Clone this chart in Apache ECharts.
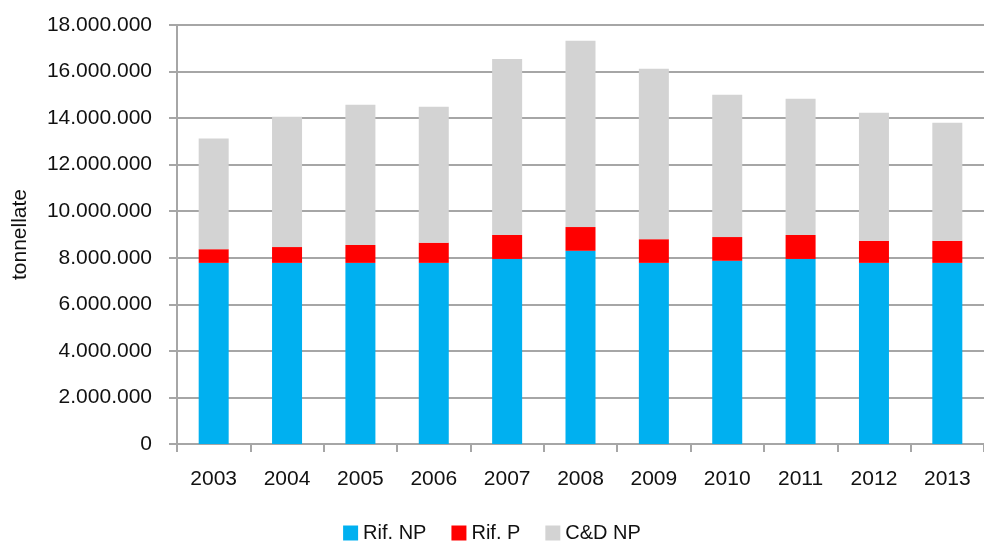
<!DOCTYPE html>
<html>
<head>
<meta charset="utf-8">
<script src="https://cdn.jsdelivr.net/npm/echarts@6/dist/echarts.min.js"></script>
<style>html,body{margin:0;padding:0;background:#fff;}#c{width:984px;height:543px;}</style>
</head>
<body>
<div id="c"></div>
<script>
var categories = ['2003','2004','2005','2006','2007','2008','2009','2010','2011','2012','2013'];
var rifNP = [7780000,7780000,7780000,7780000,7950000,8300000,7780000,7870000,7950000,7780000,7780000];
var rifP  = [590000,680000,770000,870000,1030000,1020000,1020000,1020000,1030000,950000,950000];
var cdNP  = [4750000,5600000,6020000,5840000,7560000,8000000,7320000,6110000,5850000,5500000,5070000];
var seriesNames = ['Rif. NP','Rif. P','C&D NP'];

function fmt(v){
  return String(Math.round(v)).replace(/\B(?=(\d{3})+(?!\d))/g,'.');
}
var FONT = 'Liberation Sans, Arial, sans-serif';
var chart = echarts.init(document.getElementById('c'), null, {renderer:'canvas'});
chart.setOption({
  animation:false,
  backgroundColor:'#ffffff',
  textStyle:{fontFamily:FONT},
  grid:{left:177, top:25, width:813, bottom:99, containLabel:false},
  legend:{
    data:seriesNames,
    top:518, left:'center',
    itemWidth:15, itemHeight:15, itemGap:25,
    icon:'rect',
    textStyle:{fontFamily:FONT, fontSize:20, color:'#111'}
  },
  xAxis:{
    type:'category', data:categories,
    axisLine:{lineStyle:{color:'#a6a6a6', width:2}},
    axisTick:{show:true, alignWithLabel:false, length:8, lineStyle:{color:'#a6a6a6', width:2}},
    axisLabel:{fontFamily:FONT, fontSize:21, color:'#111', margin:25}
  },
  yAxis:{
    type:'value', min:0, max:18000000, interval:2000000,
    name:'tonnellate', nameLocation:'middle', nameGap:146, nameRotate:90,
    nameTextStyle:{fontFamily:FONT, fontSize:21, color:'#111'},
    axisLine:{show:true, lineStyle:{color:'#a6a6a6', width:2}},
    axisTick:{show:true, length:8, lineStyle:{color:'#a6a6a6', width:2}},
    splitLine:{show:true, lineStyle:{color:'#a6a6a6', width:2}},
    axisLabel:{fontFamily:FONT, fontSize:21, color:'#111', margin:25, formatter:fmt}
  },
  series:[
    {name:seriesNames[0], type:'bar', stack:'t', data:rifNP, barWidth:30, itemStyle:{color:'#00b0f0'}},
    {name:seriesNames[1], type:'bar', stack:'t', data:rifP, barWidth:30, itemStyle:{color:'#ff0000'}},
    {name:seriesNames[2], type:'bar', stack:'t', data:cdNP, barWidth:30, itemStyle:{color:'#d3d3d3'}}
  ]
});
</script>
</body>
</html>
